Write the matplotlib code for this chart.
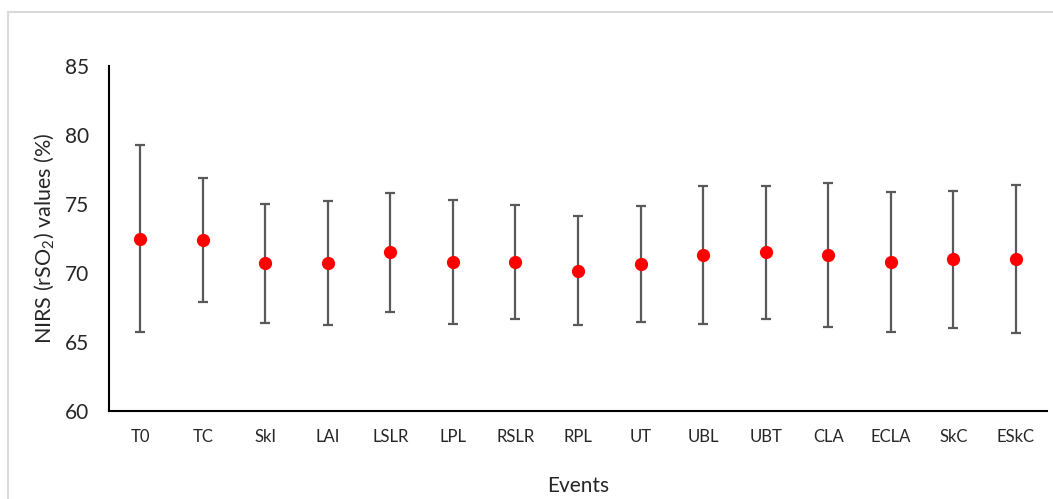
import matplotlib
matplotlib.use('Agg')
import matplotlib.pyplot as plt
from matplotlib.patches import Rectangle

# event categories
events = ['T0', 'TC', 'SkI', 'LAI', 'LSLR', 'LPL', 'RSLR', 'RPL', 'UT',
          'UBL', 'UBT', 'CLA', 'ECLA', 'SkC', 'ESkC']
# mean rSO2 (%) per event
means = [72.5, 72.4, 70.7, 70.7, 71.5, 70.8, 70.8, 70.15, 70.65,
         71.3, 71.5, 71.3, 70.8, 71.0, 71.0]
# standard deviation per event
sds = [6.8, 4.5, 4.3, 4.5, 4.3, 4.5, 4.1, 3.95, 4.2,
       5.0, 4.8, 5.2, 5.1, 4.95, 5.35]
yticks = [60, 65, 70, 75, 80, 85]

plt.rcParams['font.family'] = ['Lato', 'DejaVu Sans']
plt.rcParams['mathtext.fontset'] = 'custom'
plt.rcParams['mathtext.rm'] = 'Lato'

W, H = 1053, 499
fig = plt.figure(figsize=(W / 100, H / 100), dpi=100)
# axes placed in pixel coords: left 109, right 1047, top 66, bottom 411
ax = fig.add_axes([109 / W, 1 - 411 / H, (1047 - 109) / W, (411 - 66) / H])

xpos = list(range(len(events)))
ax.errorbar(xpos, means, yerr=sds, fmt='o', color='#ff0000', markersize=8.5,
            ecolor='#595959', elinewidth=1.6, capsize=3.8, capthick=1.6,
            zorder=3)

ax.set_xlim(-0.5, len(events) - 0.5)
ax.set_ylim(60, 85)
ax.set_yticks(yticks)
ax.set_xticks(xpos)
ax.set_xticklabels(events)

for side in ['top', 'right']:
    ax.spines[side].set_visible(False)
for side in ['left', 'bottom']:
    ax.spines[side].set_linewidth(1.5)
    ax.spines[side].set_color('black')

ax.tick_params(axis='y', length=0, pad=14, labelsize=15, colors='#262626')
ax.tick_params(axis='x', length=0, pad=13, labelsize=12, colors='#262626')

ax.set_ylabel(r'NIRS (rSO$_2$) values (%)', fontsize=15.5, color='#262626',
              labelpad=6)
ax.set_xlabel('Events', fontsize=15, color='#262626', labelpad=22)

# light grey chart-area border, cropped on right and bottom
fig.patches.append(Rectangle((8 / W, -0.1), 1.2, 1 - 12 / H + 0.1,
                             transform=fig.transFigure, fill=False,
                             edgecolor='#d9d9d9', linewidth=1.5))

fig.savefig('out.png', dpi=100)
